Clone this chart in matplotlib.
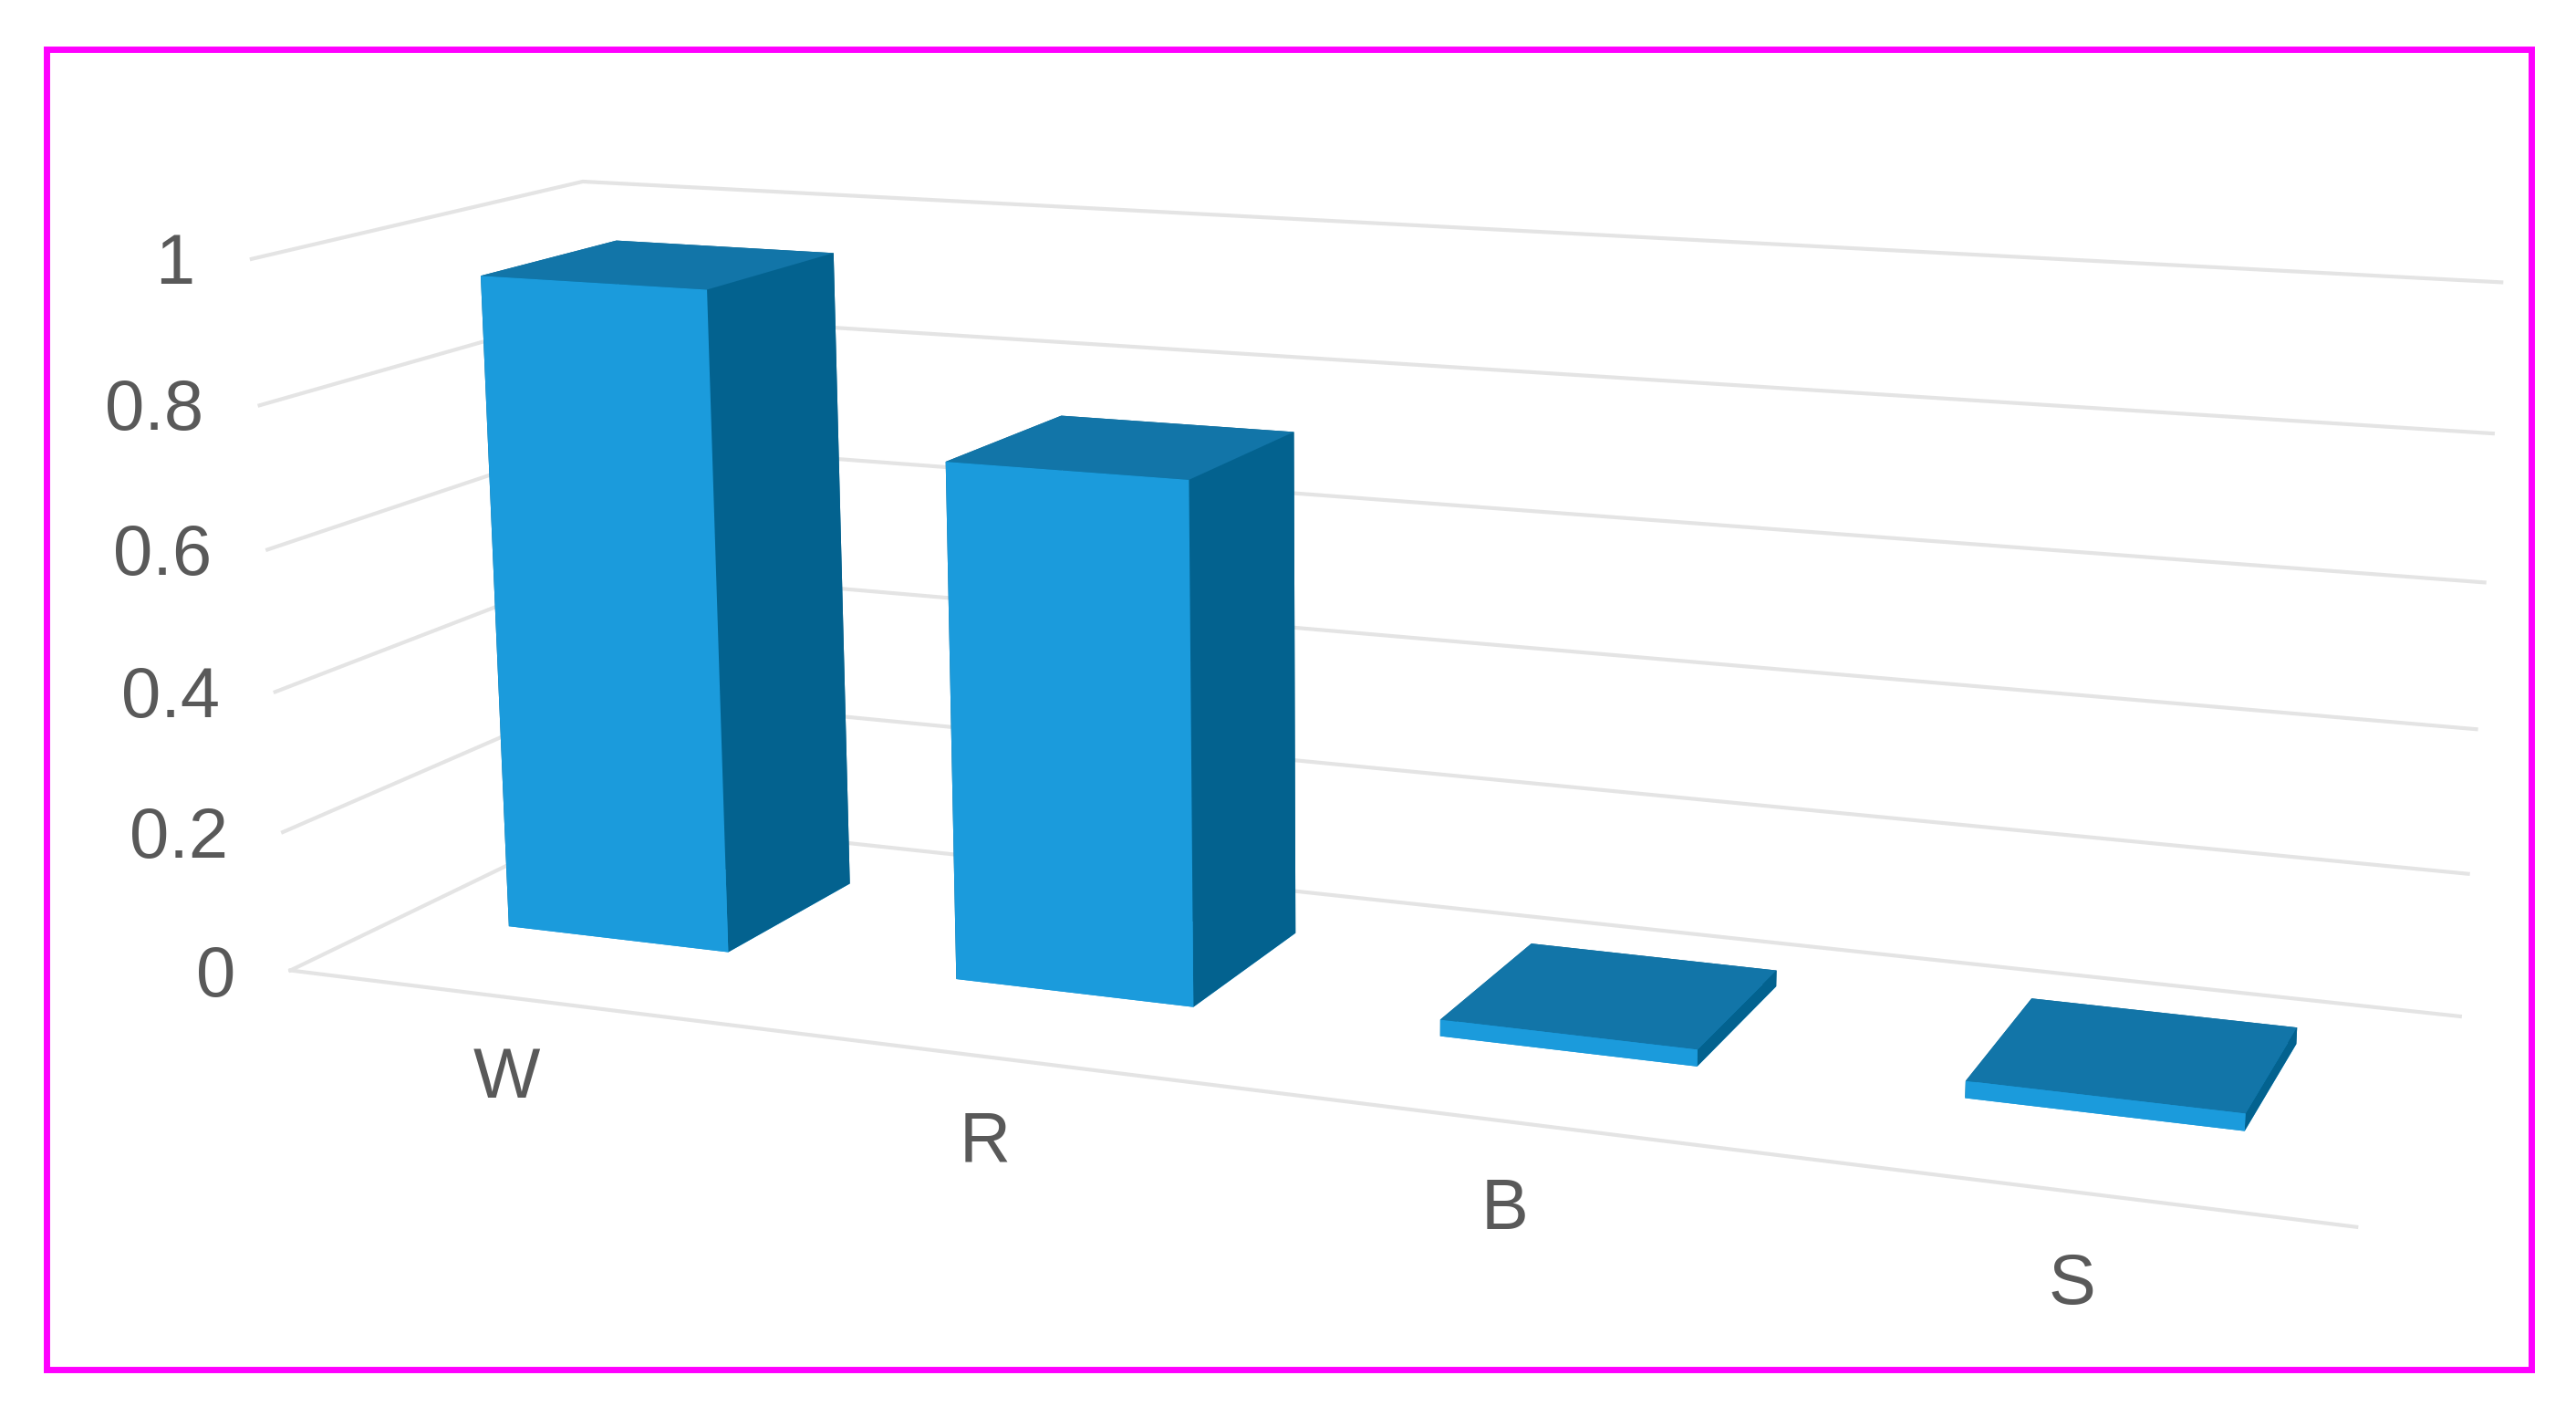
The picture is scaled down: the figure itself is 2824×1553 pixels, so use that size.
import matplotlib
matplotlib.use('Agg')
import matplotlib.pyplot as plt
from matplotlib.patches import Rectangle
from mpl_toolkits.mplot3d import proj3d

categories = ['W', 'R', 'B', 'S']
values = [0.945, 0.73, 0.023, 0.023]
z_ticks = [0, 0.2, 0.4, 0.6, 0.8, 1]
z_labels = ['0', '0.2', '0.4', '0.6', '0.8', '1']

front = '#1b9bdc'
side = '#03628f'
top = '#1275a8'
grid = '#e4e4e4'
text = '#595959'

plt.rcParams['font.family'] = ['Liberation Sans', 'DejaVu Sans']

fig = plt.figure(figsize=(28.24, 15.53), dpi=100)
# square axes as wide as the figure, so nothing gets clipped
ax = fig.add_axes([0.0135, -0.409 + 0.025, 1, 1.818], projection='3d')
ax.set_proj_type('persp', focal_length=0.33)
ax.view_init(elev=13, azim=-69)
ax.set_box_aspect((4, 1.22, 1.4), zoom=0.88)
ax.set_xlim(0, 4, view_margin=0)
ax.set_ylim(0, 1, view_margin=0)
ax.set_zlim(0, 1, view_margin=0)
ax.set_axis_off()


def label(x, y, z, s, **kw):
    # project to 2d first, plain text is easier to position
    x2, y2, _ = proj3d.proj_transform(x, y, z, ax.get_proj())
    ax.text2D(x2, y2, s, transform=ax.transData, color=text, fontsize=56, va='center', clip_on=False, **kw)


# walls and floor edge
for z, s in zip(z_ticks, z_labels):
    ax.plot([0, 0, 4], [0, 1, 1], [z, z, z], color=grid, lw=3, zorder=1)
    label(-0.085, -0.05, z - 0.005, s, ha='right')
ax.plot([0, 4], [0, 0], [0, 0], color=grid, lw=3, zorder=1)

for i, (c, v) in enumerate(zip(categories, values)):
    # face order: bottom, top, front, back, left, right
    ax.bar3d(i + 0.24, 0.34, 0, 0.5, 0.43, v, color=[front, top, front, side, side, side], shade=False, zorder=5 + i)
    label(i + 0.555, -0.1, -0.085, c, ha='center')

fig.add_artist(Rectangle((0.0180, 0.0335), 0.9645, 0.932, transform=fig.transFigure, fill=False, ec='#ff00ff', lw=5))
fig.savefig('out.png', dpi=100)
